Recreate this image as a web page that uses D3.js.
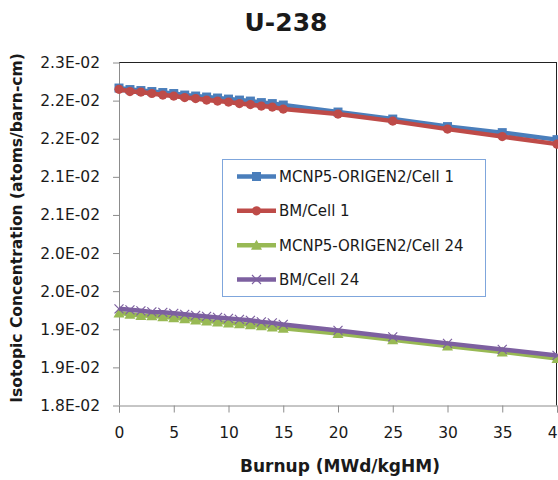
<!DOCTYPE html>
<html>
<head>
<meta charset="utf-8">
<script src="https://cdn.jsdelivr.net/npm/d3@7"></script>
<style>
  body { margin: 0; background: #fff; }
  text { font-family: "DejaVu Sans", sans-serif; fill: #1a1a1a; }
</style>
</head>
<body>
<svg id="chart"></svg>
<script>
// burnup steps (MWd/kgHM)
var burnup = [0, 1, 2, 3, 4, 5, 6, 7, 8, 9, 10, 11, 12, 13, 14, 15, 20, 25, 30, 35, 40];

// U-238 concentrations (atoms/barn-cm)
var mcnpCell1 = [0.022165, 0.022145, 0.022132, 0.022119, 0.022106, 0.022093, 0.022073, 0.022060, 0.022047, 0.022034, 0.022020,
  0.022007, 0.021994, 0.021974, 0.021961, 0.021942, 0.021850, 0.021758, 0.021659, 0.021580, 0.021488];
var bmCell1 = [0.022148, 0.022119, 0.022112, 0.022093, 0.022073, 0.022060, 0.022040, 0.022027, 0.022007, 0.021994, 0.021981,
  0.021961, 0.021948, 0.021928, 0.021915, 0.021889, 0.021823, 0.021731, 0.021626, 0.021528, 0.021429];
var mcnpCell24 = [0.019215, 0.019196, 0.019182, 0.019176, 0.019163, 0.019150, 0.019137, 0.019123, 0.019110, 0.019097, 0.019084,
  0.019071, 0.019058, 0.019045, 0.019031, 0.019012, 0.018946, 0.018861, 0.018782, 0.018703, 0.018617];
var bmCell24 = [0.019268, 0.019255, 0.019242, 0.019228, 0.019222, 0.019209, 0.019196, 0.019182, 0.019169, 0.019156, 0.019143,
  0.019130, 0.019117, 0.019097, 0.019084, 0.019064, 0.018985, 0.018900, 0.018815, 0.018736, 0.018657];

var seriesNames = ['MCNP5-ORIGEN2/Cell 1', 'BM/Cell 1', 'MCNP5-ORIGEN2/Cell 24', 'BM/Cell 24'];

var xTicks = [0, 5, 10, 15, 20, 25, 30, 35, 40];
var yTicks = [0.018, 0.0185, 0.019, 0.0195, 0.020, 0.0205, 0.021, 0.0215, 0.022, 0.0225];
var yTickLabels = ['1.8E-02', '1.9E-02', '1.9E-02', '2.0E-02', '2.0E-02', '2.1E-02', '2.1E-02', '2.2E-02', '2.2E-02', '2.3E-02'];

// layout
var width = 558, height = 480;
var plot = { left: 119, right: 557, top: 62.5, bottom: 405.5 };

var styles = [
  { color: '#4A7EBB', marker: 'square' },
  { color: '#BE4B48', marker: 'circle' },
  { color: '#98B954', marker: 'triangle' },
  { color: '#7D60A0', marker: 'cross' }
];

var series = [mcnpCell1, bmCell1, mcnpCell24, bmCell24].map(function(vals, i) {
  return {
    name: seriesNames[i],
    style: styles[i],
    points: burnup.map(function(b, j) { return { x: b, y: vals[j] }; })
  };
});

var xScale = d3.scaleLinear().domain([0, 40]).range([plot.left, plot.right]);
var yScale = d3.scaleLinear().domain([0.018, 0.0225]).range([plot.bottom, plot.top]);

var svg = d3.select('#chart')
  .attr('width', width)
  .attr('height', height);

// title
svg.append('text')
  .attr('x', 286)
  .attr('y', 31)
  .attr('text-anchor', 'middle')
  .style('font-size', '25px')
  .style('font-weight', 'bold')
  .text('U-238');

// plot frame (top + right dark, axes grey)
svg.append('line')
  .attr('x1', plot.left).attr('x2', plot.right)
  .attr('y1', plot.top).attr('y2', plot.top)
  .attr('stroke', '#222').attr('stroke-width', 1);
svg.append('line')
  .attr('x1', plot.right - 0.5).attr('x2', plot.right - 0.5)
  .attr('y1', plot.top).attr('y2', plot.bottom)
  .attr('stroke', '#222').attr('stroke-width', 1);

var yAxis = d3.axisLeft(yScale)
  .tickValues(yTicks)
  .tickSize(6)
  .tickPadding(13)
  .tickFormat(function(d, i) { return yTickLabels[i]; });

var xAxis = d3.axisBottom(xScale)
  .tickValues(xTicks)
  .tickSize(7)
  .tickPadding(14)
  .tickFormat(d3.format('d'));

var gy = svg.append('g')
  .attr('transform', 'translate(' + plot.left + ',0)')
  .call(yAxis);

var gx = svg.append('g')
  .attr('transform', 'translate(0,' + plot.bottom + ')')
  .call(xAxis);

[gx, gy].forEach(function(g) {
  g.select('.domain').attr('stroke', '#8c8c8c');
  g.selectAll('.tick line').attr('stroke', '#8c8c8c');
  g.selectAll('.tick text')
    .style('font-size', '15.5px')
    .style('font-family', '"DejaVu Sans", sans-serif')
    .attr('fill', '#1a1a1a');
});
gy.select('.domain').attr('d', 'M0.5,' + plot.bottom + 'V' + plot.top);

// axis titles
svg.append('text')
  .attr('x', 340)
  .attr('y', 472)
  .attr('text-anchor', 'middle')
  .style('font-size', '17px')
  .style('font-weight', 'bold')
  .text('Burnup (MWd/kgHM)');

svg.append('text')
  .attr('transform', 'translate(22,228) rotate(-90)')
  .attr('text-anchor', 'middle')
  .style('font-size', '15.5px')
  .style('font-weight', 'bold')
  .text('Isotopic Concentration (atoms/barn-cm)');

// markers
function drawMarker(g, type, color) {
  if (type === 'square') {
    g.append('rect').attr('x', -4.5).attr('y', -4.5).attr('width', 9).attr('height', 9)
      .attr('fill', color);
  } else if (type === 'circle') {
    g.append('circle').attr('r', 4.6).attr('fill', color);
  } else if (type === 'triangle') {
    g.append('path').attr('d', 'M0,-5.5L5.5,4.5L-5.5,4.5Z').attr('fill', color);
  } else {
    g.append('path').attr('d', 'M-4.5,-4.5L4.5,4.5M-4.5,4.5L4.5,-4.5')
      .attr('stroke', color).attr('stroke-width', 1.2).attr('fill', 'none');
  }
}

var line = d3.line()
  .x(function(d) { return xScale(d.x); })
  .y(function(d) { return yScale(d.y); });

var plotG = svg.append('g');

series.forEach(function(s) {
  var g = plotG.append('g');
  g.append('path')
    .datum(s.points)
    .attr('d', line)
    .attr('fill', 'none')
    .attr('stroke', s.style.color)
    .attr('stroke-width', 4.5)
    .attr('stroke-linejoin', 'round');
  g.selectAll('.pt')
    .data(s.points)
    .enter()
    .append('g')
      .attr('transform', function(d) { return 'translate(' + xScale(d.x) + ',' + yScale(d.y) + ')'; })
      .each(function() { drawMarker(d3.select(this), s.style.marker, s.style.color); });
});

// legend
var legend = svg.append('g');
legend.append('rect')
  .attr('x', 222.5).attr('y', 159.5)
  .attr('width', 263).attr('height', 137)
  .attr('fill', '#fff')
  .attr('stroke', '#7FA6DC')
  .attr('stroke-width', 1);

var rowY = d3.scalePoint().domain(seriesNames).range([176.5, 279.5]);

series.forEach(function(s) {
  var y = rowY(s.name);
  var item = legend.append('g');
  item.append('line')
    .attr('x1', 237).attr('x2', 276)
    .attr('y1', y).attr('y2', y)
    .attr('stroke', s.style.color)
    .attr('stroke-width', 4.5);
  drawMarker(item.append('g').attr('transform', 'translate(256.5,' + y + ')'), s.style.marker, s.style.color);
  item.append('text')
    .attr('x', 279)
    .attr('y', y)
    .attr('dy', '0.36em')
    .style('font-size', '15px')
    .text(s.name);
});
</script>
</body>
</html>
